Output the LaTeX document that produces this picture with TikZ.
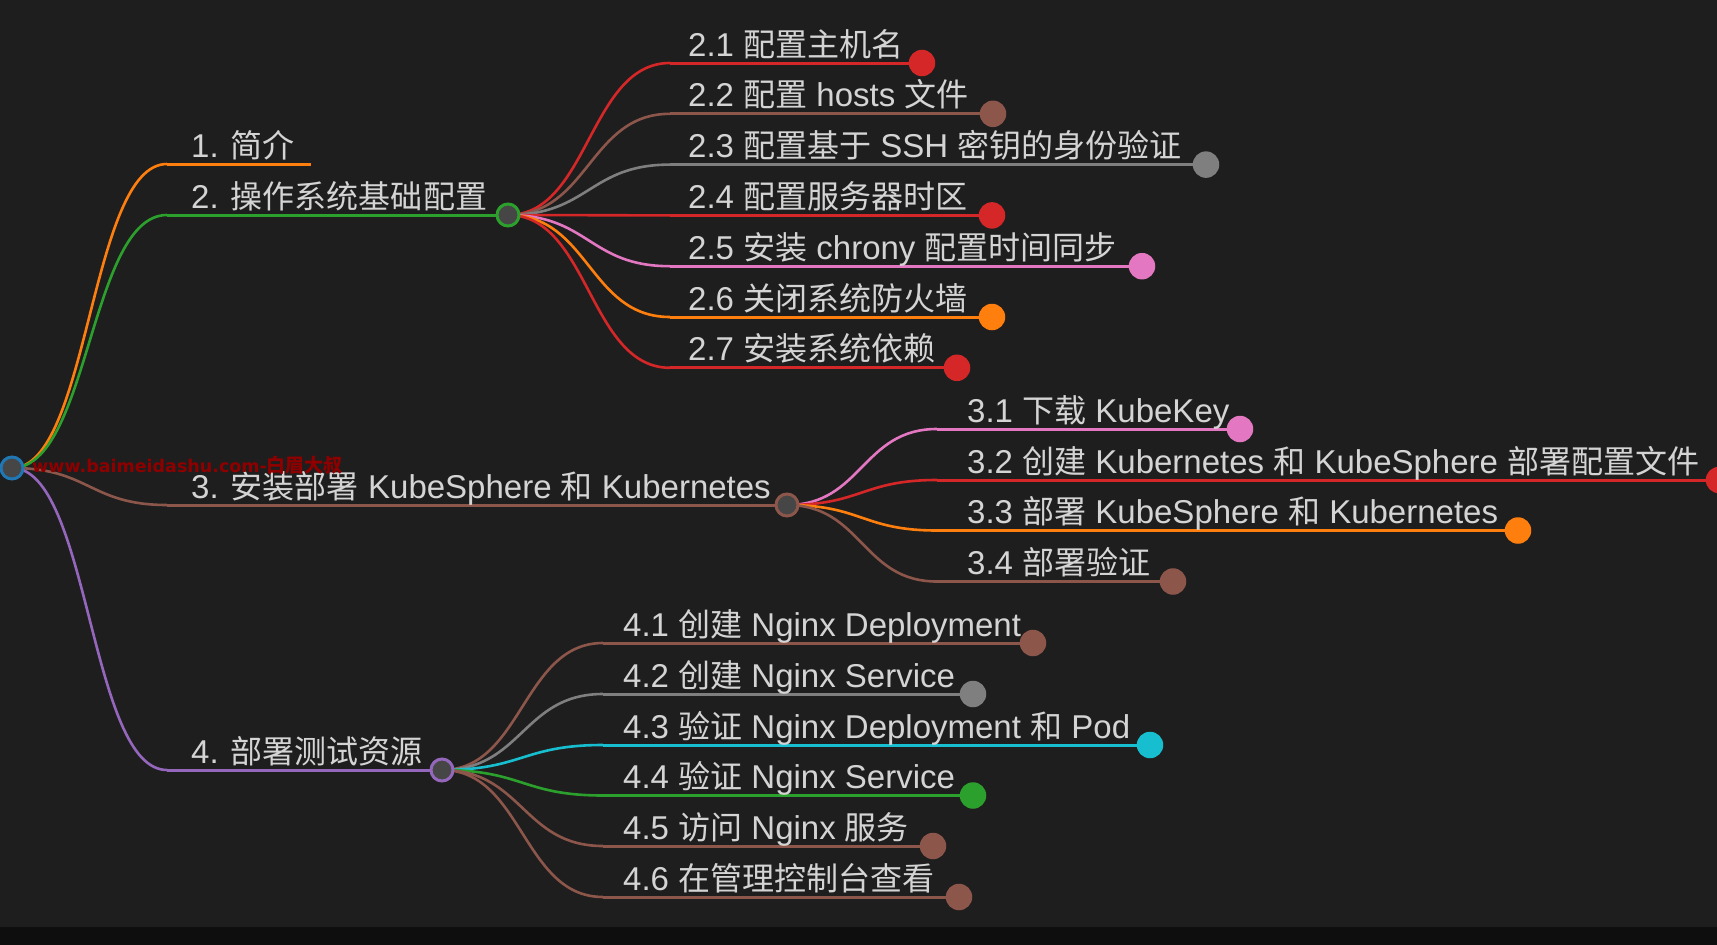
\documentclass[tikz,border=0pt]{standalone}
\usepackage{fontspec}
\setmainfont{Liberation Sans}
\newfontfamily\zhfont[Scale=0.97]{Noto Sans CJK SC}
\newfontfamily\wmfont{DejaVu Sans}
\newfontfamily\wmzh{Noto Sans CJK SC}
\newcommand\zh[1]{{\zhfont #1}}
\usetikzlibrary{calc}
\definecolor{bg}{HTML}{1E1E1E}
\definecolor{bar}{HTML}{0E0E0E}
\definecolor{txt}{HTML}{D4D4D4}
\definecolor{hubfill}{HTML}{464646}
\definecolor{cred}{HTML}{D62728}
\definecolor{cbrown}{HTML}{8C564B}
\definecolor{cgray}{HTML}{7F7F7F}
\definecolor{cpink}{HTML}{E377C2}
\definecolor{corange}{HTML}{FF7F0E}
\definecolor{cgreen}{HTML}{2CA02C}
\definecolor{cpurple}{HTML}{9467BD}
\definecolor{ccyan}{HTML}{17BECF}
\definecolor{cblue}{HTML}{1F77B4}
\definecolor{wm}{HTML}{8E0000}
\newcommand\mlink[3]{\draw[curveline,draw=#3] let \p1=(#1), \p2=(#2) in (\p1) .. controls ({0.5*\x1+0.5*\x2},\y1) and ({0.5*\x1+0.5*\x2},\y2) .. (\p2);}
\begin{document}
\begin{tikzpicture}[x=1pt,y=-1pt,
  lbl/.style={anchor=base west, inner sep=0pt, text=txt, font=\fontsize{33}{36}\selectfont},
  curveline/.style={line width=2.6pt},
  uline/.style={line width=3pt, draw=#1},
  hub/.style={circle, inner sep=0pt, minimum size=22pt, line width=3pt, draw=#1, fill=hubfill},
  leaf/.style={circle, inner sep=0pt, minimum size=26.5pt, fill=#1}]
\fill[bg] (0,0) rectangle (1717,945);
\fill[bar] (0,927) rectangle (1717,945);
\useasboundingbox (0,0) rectangle (1717,945);
% coordinates
\coordinate (p0) at (12,468);
\coordinate (s1) at (167,164); \coordinate (e1) at (311,164);
\coordinate (s2) at (167,215); \coordinate (p2) at (508,215);
\coordinate (s3) at (167,505); \coordinate (p3) at (787,505);
\coordinate (s4) at (167,770); \coordinate (p4) at (442,770);
% level 2 under 2
\coordinate (s21) at (670,63);    \coordinate (q21) at (922,63);
\coordinate (s22) at (670,113.8); \coordinate (q22) at (993,113.8);
\coordinate (s23) at (670,164.6); \coordinate (q23) at (1206,164.6);
\coordinate (s24) at (670,215.4); \coordinate (q24) at (992,215.4);
\coordinate (s25) at (670,266.2); \coordinate (q25) at (1142,266.2);
\coordinate (s26) at (670,317);   \coordinate (q26) at (992,317);
\coordinate (s27) at (670,367.8); \coordinate (q27) at (957,367.8);
% level 2 under 3
\coordinate (s31) at (937,429);   \coordinate (q31) at (1240,429);
\coordinate (s32) at (937,480);   \coordinate (q32) at (1719,480);
\coordinate (s33) at (937,530.5); \coordinate (q33) at (1518,530.5);
\coordinate (s34) at (937,581.5); \coordinate (q34) at (1173,581.5);
% level 2 under 4
\coordinate (s41) at (603,643);   \coordinate (q41) at (1033,643);
\coordinate (s42) at (603,694);   \coordinate (q42) at (973,694);
\coordinate (s43) at (603,745);   \coordinate (q43) at (1150,745);
\coordinate (s44) at (603,795.5); \coordinate (q44) at (973,795.5);
\coordinate (s45) at (603,846);   \coordinate (q45) at (933,846);
\coordinate (s46) at (603,897);   \coordinate (q46) at (959,897);
% links from root
\mlink{p0}{s1}{corange}
\mlink{p0}{s2}{cgreen}
\mlink{p0}{s3}{cbrown}
\mlink{p0}{s4}{cpurple}
\draw[uline=corange] (s1) -- (e1);
\draw[uline=cgreen] (s2) -- (p2);
\draw[uline=cbrown] (s3) -- (p3);
\draw[uline=cpurple] (s4) -- (p4);
% links from 2
\mlink{p2}{s21}{cred}    \draw[uline=cred] (s21) -- (q21);
\mlink{p2}{s22}{cbrown}  \draw[uline=cbrown] (s22) -- (q22);
\mlink{p2}{s23}{cgray}   \draw[uline=cgray] (s23) -- (q23);
\mlink{p2}{s24}{cred}    \draw[uline=cred] (s24) -- (q24);
\mlink{p2}{s25}{cpink}   \draw[uline=cpink] (s25) -- (q25);
\mlink{p2}{s26}{corange} \draw[uline=corange] (s26) -- (q26);
\mlink{p2}{s27}{cred}    \draw[uline=cred] (s27) -- (q27);
% links from 3
\mlink{p3}{s31}{cpink}   \draw[uline=cpink] (s31) -- (q31);
\mlink{p3}{s32}{cred}    \draw[uline=cred] (s32) -- (q32);
\mlink{p3}{s33}{corange} \draw[uline=corange] (s33) -- (q33);
\mlink{p3}{s34}{cbrown}  \draw[uline=cbrown] (s34) -- (q34);
% links from 4
\mlink{p4}{s41}{cbrown}  \draw[uline=cbrown] (s41) -- (q41);
\mlink{p4}{s42}{cgray}   \draw[uline=cgray] (s42) -- (q42);
\mlink{p4}{s43}{ccyan}   \draw[uline=ccyan] (s43) -- (q43);
\mlink{p4}{s44}{cgreen}  \draw[uline=cgreen] (s44) -- (q44);
\mlink{p4}{s45}{cbrown}  \draw[uline=cbrown] (s45) -- (q45);
\mlink{p4}{s46}{cbrown}  \draw[uline=cbrown] (s46) -- (q46);
% circles
\node[hub=cblue] (root) at (p0) {};
\node[hub=cgreen] (n2) at (p2) {};
\node[hub=cbrown] (n3) at (p3) {};
\node[hub=cpurple] (n4) at (p4) {};
\node[leaf=cred] (c21) at (q21) {};
\node[leaf=cbrown] (c22) at (q22) {};
\node[leaf=cgray] (c23) at (q23) {};
\node[leaf=cred] (c24) at (q24) {};
\node[leaf=cpink] (c25) at (q25) {};
\node[leaf=corange] (c26) at (q26) {};
\node[leaf=cred] (c27) at (q27) {};
\node[leaf=cpink] (c31) at (q31) {};
\node[leaf=cred] (c32) at (q32) {};
\node[leaf=corange] (c33) at (q33) {};
\node[leaf=cbrown] (c34) at (q34) {};
\node[leaf=cbrown] (c41) at (q41) {};
\node[leaf=cgray] (c42) at (q42) {};
\node[leaf=ccyan] (c43) at (q43) {};
\node[leaf=cgreen] (c44) at (q44) {};
\node[leaf=cbrown] (c45) at (q45) {};
\node[leaf=cbrown] (c46) at (q46) {};
% labels level 1
\node[lbl] (t1) at (191,157) {1. \zh{简介}};
\node[lbl] (t2) at (191,208) {2. \zh{操作系统基础配置}};
\node[lbl] (t3) at (191,498) {3. \zh{安装部署} KubeSphere \zh{和} Kubernetes};
\node[lbl] (t4) at (191,763) {4. \zh{部署测试资源}};
% labels level 2
\node[lbl] (t21) at (688,56)    {2.1 \zh{配置主机名}};
\node[lbl] (t22) at (688,106.8) {2.2 \zh{配置} hosts \zh{文件}};
\node[lbl] (t23) at (688,157.6) {2.3 \zh{配置基于} SSH \zh{密钥的身份验证}};
\node[lbl] (t24) at (688,208.4) {2.4 \zh{配置服务器时区}};
\node[lbl] (t25) at (688,259.2) {2.5 \zh{安装} chrony \zh{配置时间同步}};
\node[lbl] (t26) at (688,310)   {2.6 \zh{关闭系统防火墙}};
\node[lbl] (t27) at (688,360.8) {2.7 \zh{安装系统依赖}};
\node[lbl] (t31) at (967,422)   {3.1 \zh{下载} KubeKey};
\node[lbl] (t32) at (967,473)   {3.2 \zh{创建} Kubernetes \zh{和} KubeSphere \zh{部署配置文件}};
\node[lbl] (t33) at (967,523.5) {3.3 \zh{部署} KubeSphere \zh{和} Kubernetes};
\node[lbl] (t34) at (967,574.5) {3.4 \zh{部署验证}};
\node[lbl] (t41) at (623,636)   {4.1 \zh{创建} Nginx Deployment};
\node[lbl] (t42) at (623,687)   {4.2 \zh{创建} Nginx Service};
\node[lbl] (t43) at (623,738)   {4.3 \zh{验证} Nginx Deployment \zh{和} Pod};
\node[lbl] (t44) at (623,788.5) {4.4 \zh{验证} Nginx Service};
\node[lbl] (t45) at (623,839)   {4.5 \zh{访问} Nginx \zh{服务}};
\node[lbl] (t46) at (623,890)   {4.6 \zh{在管理控制台查看}};
% watermark
\node[anchor=base west, inner sep=0pt, text=wm, font=\wmfont\bfseries\fontsize{17.5}{20}\selectfont] (wmk) at (32,472) {www.baimeidashu.com-{\wmzh\fontsize{19}{20}\selectfont 白眉大叔}};
\end{tikzpicture}
\end{document}
